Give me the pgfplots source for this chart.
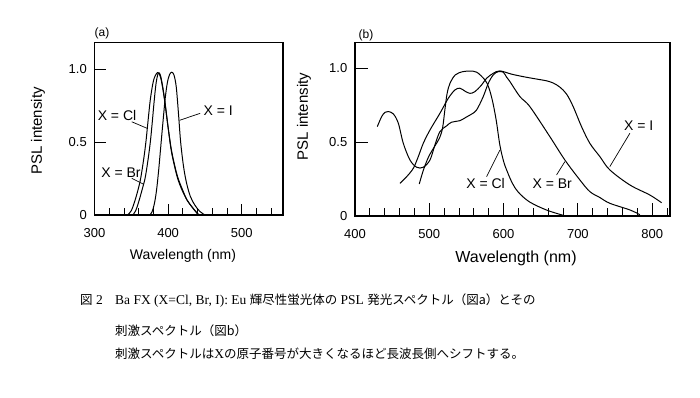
\documentclass[border=0pt]{standalone}
\usepackage{fontspec}
\setmainfont{Liberation Sans}
\newfontfamily\serif{Liberation Serif}
\newfontfamily\cjk{Noto Sans CJK JP}
\usepackage{pgfplots}
\pgfplotsset{compat=1.18}
\tikzset{lbl/.style={font=\fontsize{14}{14}\selectfont, inner sep=0pt}}
\pgfplotsset{
  crv/.style={black, line width=1pt, smooth, tension=0.55, mark=none},
  myaxis/.style={
    scale only axis, clip mode=individual,
    axis line style={line width=1.1pt},
    tick style={black, line width=0.8pt},
    tick align=inside, xtick pos=bottom, ytick pos=left,
    ymin=0, ytick={0,0.5,1}, yticklabels={0,0.5,1.0},
    /pgf/number format/assume math mode=true,
    tick label style={font=\fontsize{13}{13}\selectfont},
    xticklabel style={anchor=north, inner sep=0pt, yshift=-13pt},
    yticklabel style={anchor=east, inner sep=0pt, xshift=-7.5pt},
  }
}
\begin{document}
\begin{tikzpicture}[x=1pt,y=1pt]
\path[use as bounding box] (0,0) rectangle (700,398);

% ---------- panel (a) ----------
\begin{axis}[myaxis, at={(94.5pt,183pt)}, anchor=south west,
  width=188.5pt, height=172.3pt, xmin=300, xmax=556, ymax=1.183,
  xtick={300,400,500}, xticklabels={300,400,500},
  minor xtick={320,340,...,540},
  major tick length=11pt, minor tick length=7pt]
\addplot[crv] coordinates {(345,0) (350,0.03) (355,0.1) (360,0.19) (363,0.26) (367,0.39) (370,0.51) (373,0.66) (376,0.8) (380,0.92) (384,0.97) (387,0.975) (390,0.94) (393,0.86) (396,0.76) (400,0.6) (404,0.45) (408,0.35) (413,0.25) (419,0.17) (426,0.1) (434,0.045) (442,0)};
\addplot[crv] coordinates {(352,0) (356,0.03) (360,0.09) (365,0.18) (369,0.26) (373,0.39) (376,0.51) (378.5,0.64) (381,0.78) (383.5,0.9) (386,0.965) (388,0.975) (390,0.95) (393,0.87) (396,0.76) (400,0.6) (404,0.46) (408,0.36) (413,0.26) (419,0.18) (426,0.1) (434,0.045) (441,0)};
\addplot[crv] coordinates {(375,0) (378,0.02) (381,0.07) (384,0.16) (387,0.3) (390,0.47) (393,0.64) (396,0.8) (399,0.91) (402,0.965) (405,0.98) (408,0.96) (411,0.88) (414,0.7) (417,0.5) (421,0.33) (425,0.22) (430,0.13) (436,0.07) (443,0.025) (450,0)};
\node[lbl] at (axis cs:330.6,0.686) {X = Cl};
\draw[line width=0.7pt] (axis cs:350.6,0.640) -- (axis cs:371.5,0.595);
\node[lbl] at (axis cs:336,0.288) {X = Br};
\draw[line width=0.7pt] (axis cs:350.6,0.252) -- (axis cs:367,0.21);
\node[lbl] at (axis cs:468,0.714) {X = I};
\draw[line width=0.7pt] (axis cs:443.5,0.698) -- (axis cs:415.5,0.65);
\end{axis}

% ---------- panel (b) ----------
\begin{axis}[myaxis, at={(355pt,182pt)}, anchor=south west,
  width=315pt, height=173.3pt, xmin=400, xmax=824, ymax=1.173,
  xtick={400,500,600,700,800}, xticklabels={400,500,600,700,800},
  minor xtick={420,440,...,820},
  major tick length=13pt, minor tick length=8pt]
\addplot[crv] coordinates {(486.5,0.217) (492,0.31) (499,0.40) (507,0.47) (514,0.53) (518,0.6) (521,0.72) (524,0.83) (528,0.9) (535,0.955) (545,0.977) (555,0.98) (564,0.973) (575,0.92) (580,0.87) (585,0.78) (590,0.65) (595,0.48) (600,0.37) (605,0.3) (612,0.22) (620,0.16) (635,0.095) (658,0.04) (680,0.005)};
\addplot[crv] coordinates {(430,0.605) (435.9,0.673) (440.4,0.702) (444.8,0.707) (451.6,0.691) (458.3,0.628) (465,0.492) (474,0.379) (483,0.33) (491.9,0.33) (500.9,0.379) (507.6,0.481) (514.3,0.571) (523.3,0.61) (530,0.635) (541,0.645) (550,0.67) (557,0.69) (563.7,0.718) (572.6,0.808) (579.4,0.898) (586.1,0.955) (592.8,0.977) (599.6,0.973) (604,0.94) (608.5,0.91) (622,0.808) (635.4,0.74) (662.3,0.537) (682.5,0.379) (702.7,0.244) (716.1,0.165) (729.6,0.125) (743,0.086) (770,0.041) (783.4,0.009)};
\addplot[crv] coordinates {(460.5,0.221) (469.5,0.266) (478.5,0.323) (485.2,0.402) (491.9,0.492) (500.9,0.582) (514.3,0.695) (525.6,0.797) (534.5,0.853) (541.3,0.865) (548,0.845) (554.7,0.83) (561.4,0.842) (570.4,0.887) (577.1,0.932) (586.1,0.966) (595.1,0.982) (610.8,0.96) (628.7,0.941) (646.6,0.925) (657.8,0.915) (666.8,0.9) (675.8,0.872) (684.8,0.825) (693.7,0.74) (704.9,0.605) (716.1,0.492) (729.6,0.402) (743,0.312) (770,0.21) (796.9,0.142) (812.6,0.09)};
\node[lbl] at (axis cs:575.8,0.217) {X = Cl};
\draw[line width=0.7pt] (axis cs:577.1,0.266) -- (axis cs:595.1,0.447);
\node[lbl] at (axis cs:665.5,0.217) {X = Br};
\draw[line width=0.7pt] (axis cs:671.3,0.278) -- (axis cs:682.5,0.368);
\node[lbl] at (axis cs:782,0.609) {X = I};
\draw[line width=0.7pt] (axis cs:770,0.560) -- (axis cs:743,0.334);
\end{axis}

% ---------- labels ----------
\node[font=\fontsize{12}{12}\selectfont] at (102,365) {(a)};
\node[font=\fontsize{12}{12}\selectfont] at (366,363) {(b)};
\node[anchor=base, font=\fontsize{14}{14}\selectfont] at (183,138) {Wavelength (nm)};
\node[anchor=base, font=\fontsize{16}{16}\selectfont] at (516,135.3) {Wavelength (nm)};
\node[rotate=90, font=\fontsize{15}{15}\selectfont] at (38,267) {PSL intensity};
\node[rotate=90, font=\fontsize{15}{15}\selectfont] at (304,281.3) {PSL intensity};

% ---------- caption ----------
\node[anchor=base west, inner sep=0pt] at (80,93) {{\cjk\fontsize{12.5}{12.5}\selectfont 図}{\serif\fontsize{13.5}{13.5}\selectfont\ 2}};
\node[anchor=base west, inner sep=0pt] at (115,93) {{\serif\fontsize{13.5}{13.5}\selectfont Ba FX (X=Cl, Br, I): Eu }{\cjk\fontsize{12.5}{12.5}\selectfont 輝尽性蛍光体の}{\serif\fontsize{13.5}{13.5}\selectfont\ PSL }{\cjk\fontsize{12.5}{12.5}\selectfont 発光スペクトル（図a）とその}};
\node[anchor=base west, inner sep=0pt] at (115,62) {{\cjk\fontsize{12.5}{12.5}\selectfont 刺激スペクトル（図b）}};
\node[anchor=base west, inner sep=0pt] at (115,39) {{\cjk\fontsize{12.5}{12.5}\selectfont 刺激スペクトルは}{\serif\fontsize{13.5}{13.5}\selectfont X}{\cjk\fontsize{12.5}{12.5}\selectfont の原子番号が大きくなるほど長波長側へシフトする。}};
\end{tikzpicture}
\end{document}
